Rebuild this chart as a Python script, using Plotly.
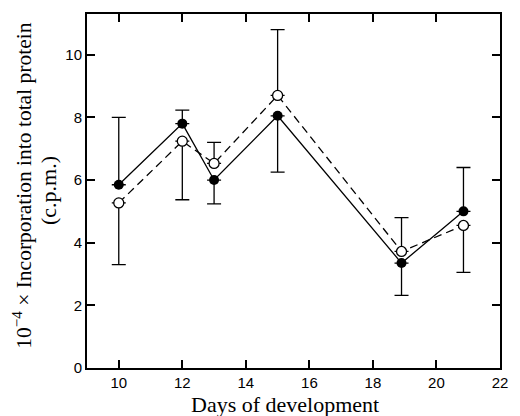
import plotly.graph_objects as go

days_filled = [10, 12, 13, 15, 18.9, 20.85]
filled = [5.85, 7.8, 6.0, 8.05, 3.35, 5.0]
filled_err_plus = [2.15, 0.43, 0, 0, 0, 1.4]
filled_err_minus = [0, 0, 0.76, 1.8, 1.03, 0]

days_open = [10, 12, 13, 15, 18.9, 20.85]
open_vals = [5.27, 7.24, 6.53, 8.7, 3.72, 4.55]
open_err_plus = [0, 0, 0.67, 2.1, 1.08, 0]
open_err_minus = [1.97, 1.87, 0, 0, 0, 1.5]

x_ticks = [10, 12, 14, 16, 18, 20, 22]
y_ticks = [0, 2, 4, 6, 8, 10]

x_title = "Days of development"
y_title_1 = "10<sup>−4</sup> × Incorporation into total protein"
y_title_2 = "(c.p.m.)"

fig = go.Figure()
fig.add_trace(go.Scatter(
    x=days_open, y=open_vals, mode="lines+markers",
    line=dict(color="black", width=1.3, dash="8px,5px"),
    marker=dict(symbol="circle", size=10, color="white", line=dict(color="black", width=1.3)),
    error_y=dict(type="data", symmetric=False, array=open_err_plus, arrayminus=open_err_minus,
                 color="black", thickness=1.3, width=7),
    showlegend=False))
fig.add_trace(go.Scatter(
    x=days_filled, y=filled, mode="lines+markers",
    line=dict(color="black", width=1.3),
    marker=dict(symbol="circle", size=10, color="black"),
    error_y=dict(type="data", symmetric=False, array=filled_err_plus, arrayminus=filled_err_minus,
                 color="black", thickness=1.3, width=7),
    showlegend=False))

serif = dict(family="Liberation Serif", size=22, color="black")
fig.update_layout(
    width=520, height=416,
    margin=dict(l=87, r=12, t=13, b=48),
    paper_bgcolor="white", plot_bgcolor="white",
    font=dict(family="Liberation Sans", color="black", size=14),
    annotations=[
        dict(text=x_title, xref="paper", yref="paper", x=0.48, y=0, yshift=-36,
             xanchor="center", yanchor="middle", showarrow=False, font=serif),
        dict(text=y_title_1, xref="paper", yref="paper", x=0, xshift=-64, y=0.515,
             xanchor="center", yanchor="middle", textangle=-90, showarrow=False,
             font=dict(family="Liberation Serif", size=21.5, color="black")),
        dict(text=y_title_2, xref="paper", yref="paper", x=0, xshift=-39, y=0.5,
             xanchor="center", yanchor="middle", textangle=-90, showarrow=False, font=serif),
    ],
)
fig.update_xaxes(
    range=[9, 22], tickvals=x_ticks, ticktext=[str(v) for v in x_ticks],
    ticks="inside", ticklen=8, tickwidth=1.5, tickcolor="black",
    showline=True, linecolor="black", linewidth=2, mirror="ticks",
    showgrid=False, zeroline=False,
    tickfont=dict(family="Liberation Sans", size=15),
)
fig.update_yaxes(
    range=[0, 11.3], tickvals=y_ticks, ticktext=[str(v) for v in y_ticks],
    ticks="inside", ticklen=8, tickwidth=1.5, tickcolor="black",
    showline=True, linecolor="black", linewidth=2, mirror="ticks",
    showgrid=False, zeroline=False,
    tickfont=dict(family="Liberation Sans", size=15),
)
fig.write_html("out.html", config={"displayModeBar": False},
               post_script="document.body.style.margin='0';")
